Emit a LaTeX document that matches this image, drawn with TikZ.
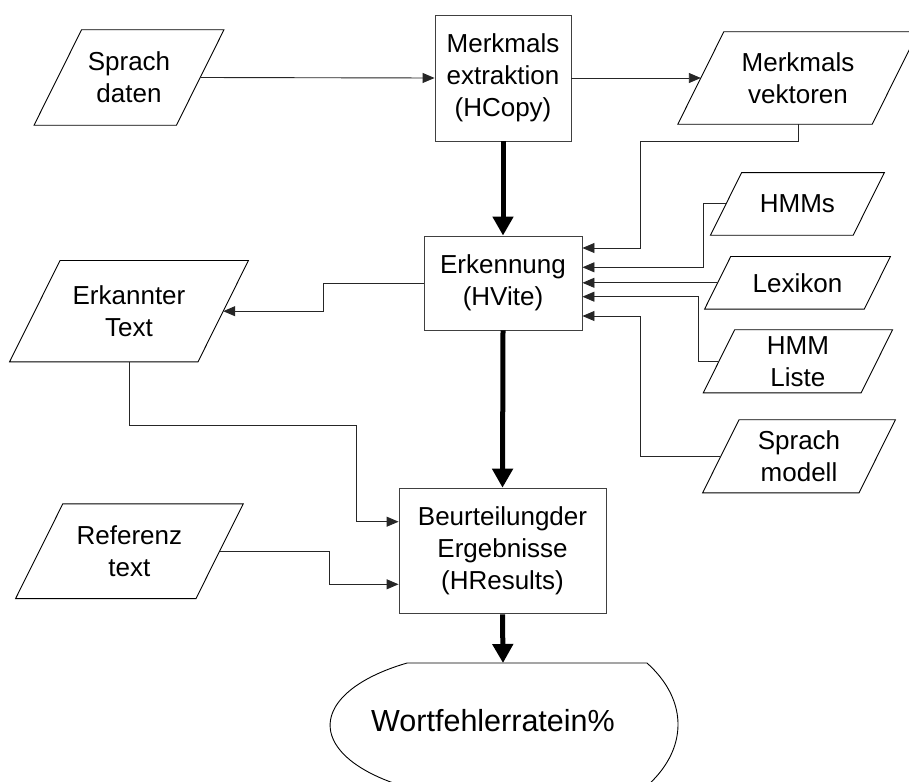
\documentclass[tikz,border=0pt]{standalone}
\usepackage{fontspec}
\setmainfont{Liberation Sans}
\usetikzlibrary{arrows.meta}

\begin{document}
\begin{tikzpicture}[x=1pt,y=-1pt,
  lbl/.style={font=\fontsize{26}{32}\selectfont, align=center},
  proc/.style={lbl, draw=black!75, line width=0.9pt, inner sep=0pt},
  data/.style={lbl, inner sep=0pt},
  pgram/.style={draw=black, line width=0.9pt, line join=miter},
  flow/.style={draw=black!85, line width=0.9pt, -{Triangle[length=12pt,width=10pt]}},
  main/.style={draw=black, line width=5pt, -{Triangle[length=19pt,width=20pt]}},
]
% canvas
\path[fill=white, use as bounding box] (0,0) rectangle (909,781);

% processing steps
\node[proc, minimum width=136pt, minimum height=126pt] (mer) at (503,78) {Merkmals\\extraktion\\(HCopy)};
\node[proc, minimum width=158pt, minimum height=94pt] (erk) at (503,283) {Erkennung\\(HVite)};
\node[proc, minimum width=207pt, minimum height=125.7pt] (beu) at (502.5,551) {Beurteilungder\\Ergebnisse\\(HResults)};

% data (the box of each node is the mid-width band of its parallelogram)
\node[data, minimum width=142pt, minimum height=95pt] (sd) at (129,77.5) {Sprach\\daten};
\node[data, minimum width=194pt, minimum height=92pt] (vek) at (798,78) {Merkmals\\vektoren};
\node[data, minimum width=142.3pt, minimum height=62.3pt] (hmm) at (797.4,203.9) {HMMs};
\node[data, minimum width=159.3pt, minimum height=52.3pt] (lex) at (797.5,282.8) {Lexikon};
\node[data, minimum width=157.5pt, minimum height=62.7pt] (hl) at (797.9,361.3) {HMM\\Liste};
\node[data, minimum width=156pt, minimum height=72.7pt] (sm) at (799,456.3) {Sprach\\modell};
\node[data, minimum width=188pt, minimum height=101pt] (et) at (129,311.2) {Erkannter\\Text};
\node[data, minimum width=180pt, minimum height=94.3pt] (ref) at (129.4,551.2) {Referenz\\text};

% parallelogram outlines, sides sloped 2:1
\foreach \n/\s in {sd/23.75, vek/23, hmm/15.6, lex/13.1, hl/15.7, sm/18.2, et/25.25, ref/23.6}
  \draw[pgram] ([xshift=-\s pt]\n.south west) -- ([xshift=-\s pt]\n.south east)
    -- ([xshift=\s pt]\n.north east) -- ([xshift=\s pt]\n.north west) -- cycle;

% result terminal
\draw[line width=0.9pt]
  plot[domain=125:236, samples=50, variable=\t] ({504.6+174.5*cos(\t)},{725.2+75*sin(\t)})
  -- plot[domain=-34.7:40, samples=50, variable=\t] ({503.5+174.5*cos(\t)},{724.5+108*sin(\t)});
\coordinate (wftop) at (503,663);
\node[font=\fontsize{30.5}{36}\selectfont] (wf) at (493,721) {Wortfehlerratein\%};

% main flow
\draw[main] (mer.south) -- (erk.north);
\draw[main] (erk.south) -- (beu.north);
\draw[main] (beu.south) -- (wftop);

% data flow
\draw[flow] (sd.east) -- (mer.west);
\draw[flow] (mer.east) -- (vek.west);
\draw[flow] (vek.south) |- (640,141) |- ([yshift=35pt]erk.east);
\draw[flow] (hmm.west) -- ++(-23,0) |- ([yshift=15.7pt]erk.east);
\draw[flow] (lex.west) -- (erk.east |- lex.west);
\draw[flow] (hl.west) -- ++(-20.7,0) |- ([yshift=-13.7pt]erk.east);
\draw[flow] (sm.west) -| (640,400) |- ([yshift=-33pt]erk.east);
\draw[flow] (erk.west) -- ++(-99.7,0) |- (et.east);
\draw[flow] (et.south) |- (356,425) |- ([yshift=29.3pt]beu.west);
\draw[flow] (ref.east) -| (329.6,570) |- ([yshift=-33.3pt]beu.west);
\end{tikzpicture}
\end{document}
